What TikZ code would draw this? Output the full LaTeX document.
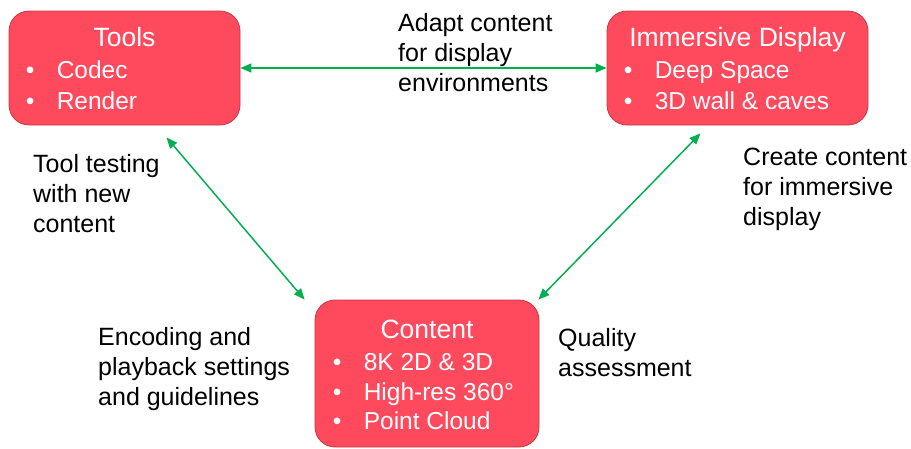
\documentclass[tikz,border=0pt]{standalone}
\usepackage{fontspec}
\setmainfont{Liberation Sans}
\usetikzlibrary{positioning,calc,arrows.meta}
\definecolor{boxred}{RGB}{255,74,94}
\definecolor{boxedge}{RGB}{192,58,72}
\definecolor{linkgreen}{RGB}{0,176,80}
\tikzset{
  block/.style={rectangle, draw=boxedge, line width=0.8pt, fill=boxred, rounded corners=20pt},
  heading/.style={text=white, font=\fontsize{26.5}{30}\selectfont, anchor=base, inner sep=0pt},
  entry/.style={text=white, font=\fontsize{24.5}{30}\selectfont, anchor=base west, inner sep=0pt},
  note/.style={font=\fontsize{25}{30}\selectfont, align=left, anchor=base west, inner sep=0pt},
  link/.style={linkgreen, line width=1.5pt, {Triangle[length=11pt,width=9pt]}-{Triangle[length=11pt,width=9pt]}}
}
\newcommand{\bul}{\makebox[31pt][l]{•}}

\begin{document}
\begin{tikzpicture}[x=1pt, y=-1pt]
    \useasboundingbox (0,0) rectangle (911,448);

    % boxes
    \node[block, minimum width=231pt, minimum height=114pt] (tools) at (124.5,68) {};
    \node[block, minimum width=261pt, minimum height=114pt] (display) at (737.5,68) {};
    \node[block, minimum width=224pt, minimum height=147pt] (content) at (427,373.5) {};

    % box texts
    \node[heading] (toolsT) at ($(tools.north)+(0,36)$) {Tools};
    \node[entry] (codec) at ($(tools.north west)+(17,68)$) {\bul Codec};
    \node[entry] (render) at ($(tools.north west)+(17,99)$) {\bul Render};

    \node[heading] (displayT) at ($(display.north)+(0,36)$) {Immersive Display};
    \node[entry] (deep) at ($(display.north west)+(17,68)$) {\bul Deep Space};
    \node[entry] (wall) at ($(display.north west)+(17,99)$) {\bul 3D wall \& caves};

    \node[heading] (contentT) at ($(content.north)+(0,39)$) {Content};
    \node[entry] (eightk) at ($(content.north west)+(18,71)$) {\bul 8K 2D \& 3D};
    \node[entry] (highres) at ($(content.north west)+(18,101)$) {\bul High-res 360°};
    \node[entry] (cloud) at ($(content.north west)+(18,130)$) {\bul Point Cloud};

    % link ends
    \coordinate (toolsE) at ($(tools.south)+(42,12)$);
    \coordinate (contentL) at ($(content.north west)+(-10,0)$);
    \coordinate (displayE) at ($(display.south)+(-37,8)$);
    \coordinate (contentR) at ($(content.north east)+(-1,0)$);

    \draw[link] (tools.east) -- (display.west);
    \draw[link] (toolsE) -- (contentL);
    \draw[link] (displayE) -- (contentR);

    % notes (placed at the baseline of their last line)
    \node[note] (adapt) at (398,91) {Adapt content\\for display\\environments};
    \node[note] (testing) at (33,232) {Tool testing\\with new\\content};
    \node[note] (create) at (743,225) {Create content\\for immersive\\display};
    \node[note] (encoding) at (98,405) {Encoding and\\playback settings\\and guidelines};
    \node[note] (quality) at (558,376) {Quality\\assessment};
\end{tikzpicture}
\end{document}
